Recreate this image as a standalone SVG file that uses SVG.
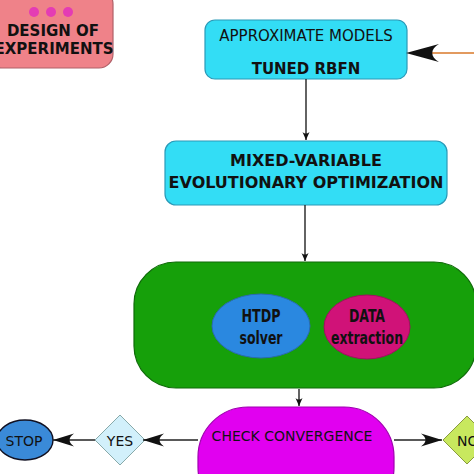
<svg xmlns="http://www.w3.org/2000/svg" width="474" height="474" viewBox="0 0 474 474">
<style>
text{font-family:"DejaVu Sans","Liberation Sans",sans-serif;text-anchor:middle;fill:#111}
.b{font-weight:bold}
.c{font-family:"DejaVu Sans Condensed","DejaVu Sans",sans-serif;font-stretch:condensed;font-weight:bold}
.cy{fill:#33ddf5;stroke:#2a9ab8;stroke-width:1.2}
.ln{stroke:#222;stroke-width:1.4;fill:none}
</style>
<defs>
<marker id="big" viewBox="-22 -7 23 14" markerWidth="23" markerHeight="14" refX="0" refY="0" orient="auto" markerUnits="userSpaceOnUse">
<path d="M0,0 L-21,-6.5 C-15,-2 -15,2 -21,6.5 Z" fill="#111"/>
</marker>
<marker id="sm" viewBox="-9 -4 10 8" markerWidth="10" markerHeight="8" refX="0" refY="0" orient="auto" markerUnits="userSpaceOnUse">
<path d="M0,0 L-8,-3.5 C-6,-1 -6,1 -8,3.5 Z" fill="#111"/>
</marker>
</defs>
<g id="design">
<rect x="-12" y="-10" width="125" height="78" rx="14" fill="#ef8289" stroke="#b06068" stroke-width="1.2"/>
<circle cx="34" cy="12" r="5" fill="#e43cb4"/>
<circle cx="51" cy="12" r="5" fill="#e43cb4"/>
<circle cx="68" cy="12" r="5" fill="#e43cb4"/>
<text x="53" y="36" class="b" font-size="15">DESIGN OF</text>
<text x="54" y="54" class="b" font-size="15">EXPERIMENTS</text>
</g>
<g id="approx">
<rect x="205" y="20" width="202" height="59" rx="10" class="cy"/>
<text x="306" y="41" font-size="15">APPROXIMATE MODELS</text>
<text x="306" y="74" class="b" font-size="15">TUNED RBFN</text>
</g>
<g id="mixed">
<rect x="165" y="141" width="282" height="64" rx="11" class="cy"/>
<text x="306" y="166" class="b" font-size="16">MIXED-VARIABLE</text>
<text x="306" y="188" class="b" font-size="16">EVOLUTIONARY OPTIMIZATION</text>
</g>
<g id="green">
<rect x="134" y="262" width="342" height="126" rx="42" fill="#16a00a" stroke="#0e6a08" stroke-width="1.2"/>
</g>
<g id="htdp">
<ellipse cx="261" cy="326" rx="49" ry="32" fill="#2a88e0" stroke="#2a6ab0" stroke-width="1"/>
<text x="261" y="322" class="c" font-size="17" textLength="39" lengthAdjust="spacingAndGlyphs">HTDP</text>
<text x="261" y="344" class="c" font-size="17" textLength="43" lengthAdjust="spacingAndGlyphs">solver</text>
</g>
<g id="data">
<ellipse cx="367" cy="327" rx="43" ry="32" fill="#d01278" stroke="#a01060" stroke-width="1"/>
<text x="367" y="322" class="c" font-size="17" fill="#220010" textLength="36" lengthAdjust="spacingAndGlyphs">DATA</text>
<text x="367" y="344" class="c" font-size="17" fill="#220010" textLength="72" lengthAdjust="spacingAndGlyphs">extraction</text>
</g>
<g id="check">
<rect x="198" y="407" width="196" height="110" rx="50" fill="#e100f0" stroke="#a000b0" stroke-width="1.2"/>
<text x="292" y="441" font-size="14" fill="#330044">CHECK  CONVERGENCE</text>
</g>
<g id="yes">
<polygon points="120,415 145,440 120,465 95,440" fill="#d2f0fb" stroke="#8aa" stroke-width="1"/>
<text x="120" y="446" font-size="14">YES</text>
</g>
<g id="stop">
<ellipse cx="25" cy="440" rx="28" ry="20" fill="#3a8ad8" stroke="#112" stroke-width="1.4"/>
<text x="24" y="446" font-size="14">STOP</text>
</g>
<g id="no">
<polygon points="467,416 491,440 467,464 443,440" fill="#c8e85e" stroke="#8a9a40" stroke-width="1"/>
<text x="457" y="446" font-size="14" style="text-anchor:start">NO</text>
</g>
<g id="connectors">
<line x1="474" y1="53" x2="432" y2="53" stroke="#d8782a" stroke-width="1.6"/>
<path d="M406,53 L439,44 C430,49 430,57 439,62 Z" fill="#111"/>
<line x1="306" y1="79" x2="306" y2="140" class="ln" marker-end="url(#sm)"/>
<line x1="305" y1="205" x2="305" y2="261" class="ln" marker-end="url(#sm)"/>
<line x1="299" y1="389" x2="299" y2="406" class="ln" marker-end="url(#sm)"/>
<line x1="198" y1="440" x2="143" y2="440" class="ln" marker-end="url(#big)"/>
<line x1="95" y1="440" x2="53" y2="440" class="ln" marker-end="url(#big)"/>
<line x1="394" y1="440" x2="442" y2="440" class="ln" marker-end="url(#big)"/>
</g>
</svg>
